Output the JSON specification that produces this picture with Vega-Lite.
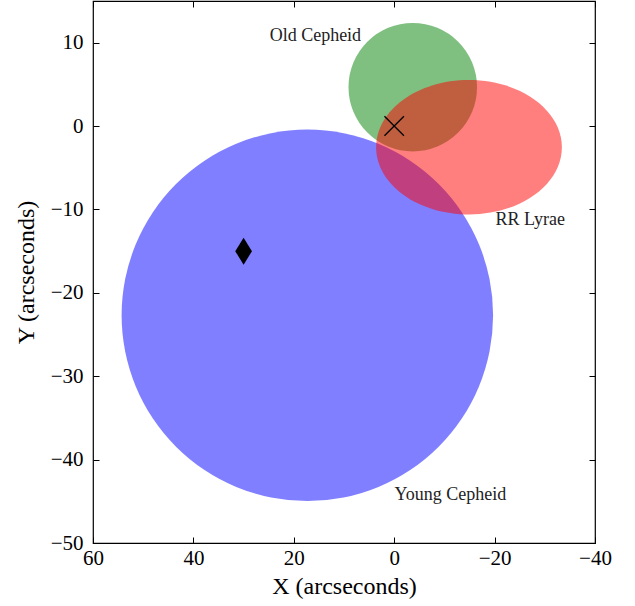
{
  "$schema": "https://vega.github.io/schema/vega-lite/v6.json",
  "width": 502,
  "height": 542,
  "autosize": {"type": "none"},
  "padding": {"left": 93, "top": 1, "right": 40, "bottom": 63},
  "config": {
    "view": {"stroke": "#000000", "strokeWidth": 1.2},
    "font": "Liberation Serif",
    "axis": {
      "domain": false,
      "grid": false,
      "ticks": true,
      "tickColor": "#000000",
      "tickWidth": 1,
      "tickSize": -6,
      "labelFlush": false,
      "labelFont": "Liberation Serif",
      "labelFontSize": 21,
      "labelColor": "#000000",
      "titleFont": "Liberation Serif",
      "titleFontSize": 24,
      "titleFontWeight": "normal",
      "titleColor": "#000000"
    }
  },
  "layer": [
    {
      "data": {"values": [
        {"name": "Young Cepheid", "X": 17.3, "Y": -22.7, "r": 37.0},
        {"name": "Old Cepheid", "X": -3.7, "Y": 4.67, "r": 12.8},
        {"name": "RR Lyrae", "X": -14.9, "Y": -2.54, "r": 18.5}
      ]},
      "mark": {"type": "point", "filled": true, "opacity": 0.5, "strokeWidth": 0},
      "encoding": {
        "x": {"field": "X", "type": "quantitative",
          "scale": {"domain": [-40, 60], "reverse": true, "nice": false, "zero": false},
          "axis": {"values": [-40, -20, 0, 20, 40, 60], "title": "X (arcseconds)", "labelPadding": 10, "titlePadding": 6, "orient": "bottom"}},
        "y": {"field": "Y", "type": "quantitative",
          "scale": {"domain": [-50, 15], "nice": false, "zero": false},
          "axis": {"values": [-50, -40, -30, -20, -10, 0, 10], "title": "Y (arcseconds)", "labelPadding": 16, "titlePadding": 12, "orient": "left"}},
        "size": {"field": "r", "type": "quantitative", "legend": null,
          "scale": {"type": "pow", "exponent": 2, "domain": [0, 100], "range": [0, 1008016]}},
        "shape": {"field": "name", "type": "nominal", "legend": null,
          "scale": {"domain": ["Young Cepheid", "Old Cepheid", "RR Lyrae"],
            "range": ["circle", "circle", "M -1 0 A 1 0.724 0 1 0 1 0 A 1 0.724 0 1 0 -1 0 Z"]}},
        "color": {"field": "name", "type": "nominal", "legend": null,
          "scale": {"domain": ["Young Cepheid", "Old Cepheid", "RR Lyrae"],
            "range": ["#0000ff", "#008000", "#ff0000"]}}
      }
    },
    {
      "data": {"values": [{"X": 0, "Y": 0}]},
      "mark": {"type": "point", "filled": false, "shape": "M -1 -1 L 1 1 M -1 1 L 1 -1", "size": 380, "stroke": "#000000", "strokeWidth": 1.3, "opacity": 1},
      "encoding": {
        "x": {"field": "X", "type": "quantitative", "axis": null},
        "y": {"field": "Y", "type": "quantitative", "axis": null}
      }
    },
    {
      "data": {"values": [{"X": 30, "Y": -15}]},
      "mark": {"type": "point", "filled": true, "shape": "M 0 -1 L 0.62 0 L 0 1 L -0.62 0 Z", "size": 729, "color": "#000000", "opacity": 1},
      "encoding": {
        "x": {"field": "X", "type": "quantitative", "axis": null},
        "y": {"field": "Y", "type": "quantitative", "axis": null}
      }
    },
    {
      "data": {"values": [
        {"label": "Old Cepheid", "X": 15.7, "Y": 10.8},
        {"label": "RR Lyrae", "X": -27.1, "Y": -11.3},
        {"label": "Young Cepheid", "X": -11.2, "Y": -44.3}
      ]},
      "mark": {"type": "text", "font": "Liberation Serif", "fontSize": 18, "color": "#222222", "align": "center", "baseline": "middle"},
      "encoding": {
        "x": {"field": "X", "type": "quantitative",
          "axis": {"orient": "top", "values": [-40, -20, 0, 20, 40, 60], "labels": false, "title": null}},
        "y": {"field": "Y", "type": "quantitative",
          "axis": {"orient": "right", "values": [-50, -40, -30, -20, -10, 0, 10], "labels": false, "title": null}},
        "text": {"field": "label"}
      }
    }
  ],
  "resolve": {"axis": {"x": "independent", "y": "independent"}}
}
